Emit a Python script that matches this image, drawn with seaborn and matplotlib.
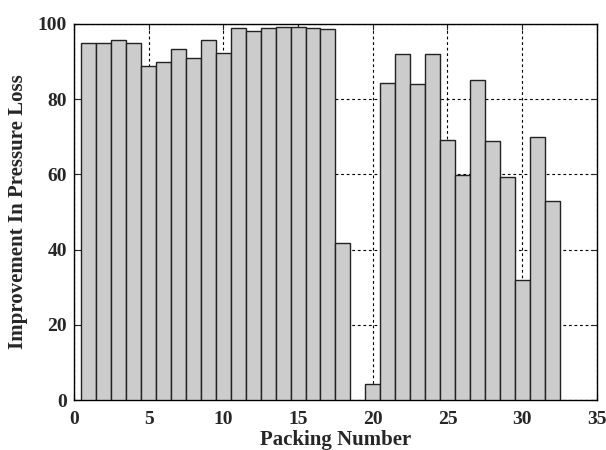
import matplotlib
matplotlib.use("Agg")
import matplotlib.pyplot as plt
import pandas as pd
import seaborn as sns

packing = [1, 2, 3, 4, 5, 6, 7, 8, 9, 10, 11, 12, 13, 14, 15, 16, 17, 18,
           20, 21, 22, 23, 24, 25, 26, 27, 28, 29, 30, 31, 32]
improvement = [95.0, 95.0, 95.6, 94.8, 88.7, 89.8, 93.2, 91.0, 95.6, 92.2,
               98.8, 98.1, 98.8, 99.1, 99.1, 98.8, 98.5, 41.8,
               4.2, 84.4, 92.0, 84.0, 92.0, 69.2, 59.8, 85.0, 68.9, 59.4,
               32.0, 69.9, 52.8]

df = pd.DataFrame({"packing": packing, "improvement": improvement})

sns.set_style("ticks")
plt.rcParams["font.family"] = ["Liberation Serif", "DejaVu Serif"]
plt.rcParams["font.weight"] = "bold"

fig = plt.figure(figsize=(6.06, 4.5), dpi=100)
ax = fig.add_axes([0.122, 0.111, 0.863, 0.836])

sns.barplot(data=df, x="packing", y="improvement", native_scale=True, width=1,
            color="#cccccc", edgecolor="#222222", linewidth=1.0, saturation=1,
            ax=ax, zorder=3)

ax.set_xlim(0, 35)
ax.set_ylim(0, 100)
ax.set_xticks([0, 5, 10, 15, 20, 25, 30, 35])
ax.set_yticks([0, 20, 40, 60, 80, 100])
ax.grid(True, color="black", linestyle=(0, (2.5, 2.5)), linewidth=0.8, zorder=0)
ax.set_axisbelow(True)
ax.tick_params(direction="in", top=True, right=True, labelsize=14, length=4)
ax.tick_params(axis="x", pad=8)
ax.tick_params(axis="y", pad=5)
for lab in ax.get_xticklabels() + ax.get_yticklabels():
    lab.set_fontweight("bold")
for s in ax.spines.values():
    s.set_visible(True)
    s.set_linewidth(1.0)
    s.set_color("black")

ax.set_xlabel("Packing Number", fontsize=15, fontweight="bold", labelpad=1)
ax.set_ylabel("Improvement In Pressure Loss", fontsize=15, fontweight="bold", labelpad=7)

fig.savefig("out.png", dpi=100)
